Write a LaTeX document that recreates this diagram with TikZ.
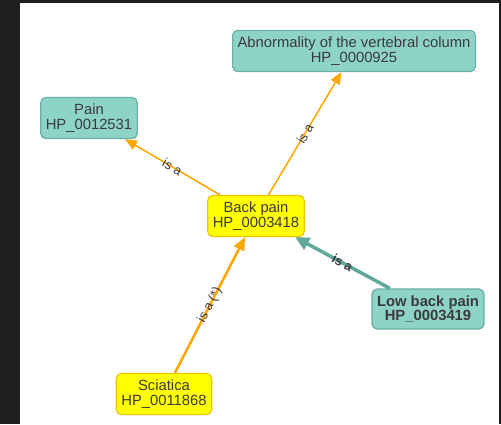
\documentclass[tikz,border=0pt]{standalone}
\usepackage{fontspec}
\setmainfont{Liberation Sans}
\usepackage{xcolor}
\usetikzlibrary{arrows.meta}

\definecolor{frame}{HTML}{1E1E1E}
\definecolor{tealfill}{HTML}{8DD3C7}
\definecolor{tealline}{HTML}{6BB0A4}
\definecolor{tealedge}{HTML}{5FA89B}
\definecolor{yelfill}{HTML}{FFFF00}
\definecolor{yelline}{HTML}{F2C500}
\definecolor{orangeedge}{HTML}{FFA500}
\definecolor{txt}{HTML}{3A3A3A}

\begin{document}
\begin{tikzpicture}[x=1pt,y=-1pt,
    term/.style={rounded corners=5pt, line width=1.2pt, align=center,
        text=txt, font=\fontsize{14.8}{14.5}\selectfont,
        inner xsep=5pt, inner ysep=6.5pt},
    termteal/.style={term, fill=tealfill, draw=tealline},
    termyellow/.style={term, fill=yelfill, draw=yelline},
    isa/.style={draw=orangeedge, line width=1.5pt,
        -{Triangle[length=12pt,width=10pt]}},
    isalabel/.style={sloped, text=txt, font=\fontsize{13}{13}\selectfont, inner sep=1pt}]
    % Frame and canvas
    \fill[frame] (0,0) rectangle (501,424);
    \fill[white] (20,3) rectangle (499,424);
    \useasboundingbox (0,0) rectangle (501,424);

    % Terms
    \node[termteal] (abn) at (354,51) {Abnormality of the vertebral column\\HP\_0000925};
    \node[termteal] (pain) at (89,118) {Pain\\HP\_0012531};
    \node[termyellow] (back) at (256,216) {Back pain\\HP\_0003418};
    \node[termteal, font=\fontsize{14.8}{14.5}\selectfont\bfseries] (low) at (428,309) {Low back pain\\HP\_0003419};
    \node[termyellow] (sci) at (164,394) {Sciatica\\HP\_0011868};

    % Relations
    \draw[isa] (back) -- node[isalabel] {is a} (pain);
    \draw[isa] (back) -- node[isalabel] {is a} (abn);
    \draw[isa, draw=tealedge, line width=3.5pt, -{Triangle[length=14pt,width=13pt]}]
        (low) -- node[isalabel, font=\fontsize{13}{13}\selectfont\bfseries] {is a} (back);
    \draw[isa, line width=2.5pt, -{Triangle[length=13pt,width=11pt]}]
        (sci) -- node[isalabel] {is a (*)} (back);
\end{tikzpicture}
\end{document}
